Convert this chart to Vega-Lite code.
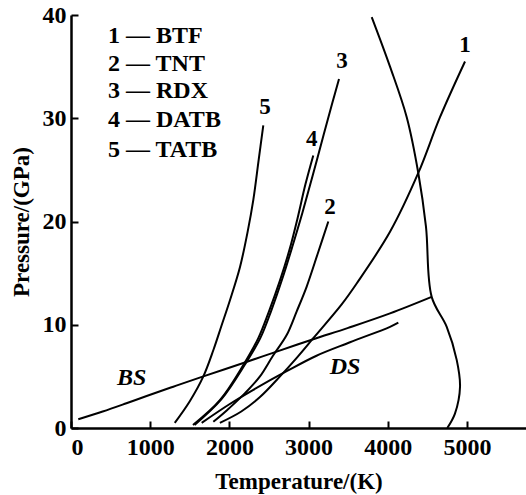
{
  "$schema": "https://vega.github.io/schema/vega-lite/v6.json",
  "autosize": "none",
  "width": 455,
  "height": 413,
  "padding": {"left": 71, "top": 15, "right": 0, "bottom": 67},
  "background": "white",
  "config": {
    "view": {"stroke": null},
    "axis": {
      "grid": false,
      "domainColor": "black",
      "domainWidth": 2.5,
      "tickColor": "black",
      "tickWidth": 2,
      "tickSize": -7,
      "labelFont": "Liberation Serif",
      "labelFontSize": 24,
      "labelFontWeight": "bold",
      "labelColor": "black",
      "titleFont": "Liberation Serif",
      "titleFontSize": 23,
      "titleFontWeight": "bold",
      "titleColor": "black"
    }
  },
  "datasets": {
    "curves": [
      {"s": "BS", "i": 0, "T": 92, "P": 0.85},
      {"s": "BS", "i": 1, "T": 400, "P": 1.6},
      {"s": "BS", "i": 2, "T": 700, "P": 2.4},
      {"s": "BS", "i": 3, "T": 955, "P": 3.1},
      {"s": "BS", "i": 4, "T": 1292, "P": 4.0},
      {"s": "BS", "i": 5, "T": 1671, "P": 5.0},
      {"s": "BS", "i": 6, "T": 2176, "P": 6.3},
      {"s": "BS", "i": 7, "T": 2597, "P": 7.4},
      {"s": "BS", "i": 8, "T": 3059, "P": 8.6},
      {"s": "BS", "i": 9, "T": 3500, "P": 9.7},
      {"s": "BS", "i": 10, "T": 4028, "P": 11.1},
      {"s": "BS", "i": 11, "T": 4554, "P": 12.7},
      {"s": "DS", "i": 0, "T": 1650, "P": 0.5},
      {"s": "DS", "i": 1, "T": 2000, "P": 2.3},
      {"s": "DS", "i": 2, "T": 2302, "P": 3.7},
      {"s": "DS", "i": 3, "T": 2723, "P": 5.5},
      {"s": "DS", "i": 4, "T": 3100, "P": 7.0},
      {"s": "DS", "i": 5, "T": 3523, "P": 8.3},
      {"s": "DS", "i": 6, "T": 4028, "P": 9.8},
      {"s": "DS", "i": 7, "T": 4133, "P": 10.2},
      {"s": "M", "i": 0, "T": 3797, "P": 39.8},
      {"s": "M", "i": 1, "T": 4028, "P": 35.0},
      {"s": "M", "i": 2, "T": 4239, "P": 30.1},
      {"s": "M", "i": 3, "T": 4385, "P": 24.7},
      {"s": "M", "i": 4, "T": 4482, "P": 19.5},
      {"s": "M", "i": 5, "T": 4554, "P": 12.7},
      {"s": "M", "i": 6, "T": 4744, "P": 9.8},
      {"s": "M", "i": 7, "T": 4870, "P": 6.6},
      {"s": "M", "i": 8, "T": 4912, "P": 4.0},
      {"s": "M", "i": 9, "T": 4848, "P": 1.4},
      {"s": "M", "i": 10, "T": 4751, "P": 0},
      {"s": "5", "i": 0, "T": 1310, "P": 0.5},
      {"s": "5", "i": 1, "T": 1500, "P": 2.6},
      {"s": "5", "i": 2, "T": 1671, "P": 5.0},
      {"s": "5", "i": 3, "T": 1800, "P": 7.6},
      {"s": "5", "i": 4, "T": 1900, "P": 9.9},
      {"s": "5", "i": 5, "T": 2008, "P": 12.4},
      {"s": "5", "i": 6, "T": 2134, "P": 15.6},
      {"s": "5", "i": 7, "T": 2230, "P": 19.0},
      {"s": "5", "i": 8, "T": 2302, "P": 22.1},
      {"s": "5", "i": 9, "T": 2370, "P": 26.0},
      {"s": "5", "i": 10, "T": 2428, "P": 29.3},
      {"s": "4", "i": 0, "T": 1540, "P": 0.3},
      {"s": "4", "i": 1, "T": 1880, "P": 2.7},
      {"s": "4", "i": 2, "T": 2176, "P": 6.1},
      {"s": "4", "i": 3, "T": 2365, "P": 8.7},
      {"s": "4", "i": 4, "T": 2500, "P": 11.3},
      {"s": "4", "i": 5, "T": 2639, "P": 14.3},
      {"s": "4", "i": 6, "T": 2760, "P": 17.3},
      {"s": "4", "i": 7, "T": 2860, "P": 20.3},
      {"s": "4", "i": 8, "T": 2960, "P": 23.6},
      {"s": "4", "i": 9, "T": 3059, "P": 26.4},
      {"s": "3", "i": 0, "T": 1560, "P": 0.3},
      {"s": "3", "i": 1, "T": 1900, "P": 2.8},
      {"s": "3", "i": 2, "T": 2200, "P": 6.2},
      {"s": "3", "i": 3, "T": 2390, "P": 8.7},
      {"s": "3", "i": 4, "T": 2530, "P": 11.4},
      {"s": "3", "i": 5, "T": 2670, "P": 14.5},
      {"s": "3", "i": 6, "T": 2800, "P": 17.7},
      {"s": "3", "i": 7, "T": 2920, "P": 20.8},
      {"s": "3", "i": 8, "T": 3050, "P": 24.4},
      {"s": "3", "i": 9, "T": 3190, "P": 28.4},
      {"s": "3", "i": 10, "T": 3300, "P": 31.5},
      {"s": "3", "i": 11, "T": 3384, "P": 33.8},
      {"s": "2", "i": 0, "T": 1797, "P": 0.6},
      {"s": "2", "i": 1, "T": 1966, "P": 1.7},
      {"s": "2", "i": 2, "T": 2200, "P": 3.4},
      {"s": "2", "i": 3, "T": 2386, "P": 5.0},
      {"s": "2", "i": 4, "T": 2550, "P": 7.0},
      {"s": "2", "i": 5, "T": 2723, "P": 9.0},
      {"s": "2", "i": 6, "T": 2850, "P": 11.3},
      {"s": "2", "i": 7, "T": 2976, "P": 13.7},
      {"s": "2", "i": 8, "T": 3120, "P": 17.0},
      {"s": "2", "i": 9, "T": 3249, "P": 20.0},
      {"s": "1", "i": 0, "T": 1880, "P": 0.5},
      {"s": "1", "i": 1, "T": 2150, "P": 1.6},
      {"s": "1", "i": 2, "T": 2386, "P": 3.0},
      {"s": "1", "i": 3, "T": 2639, "P": 5.0},
      {"s": "1", "i": 4, "T": 2850, "P": 6.8},
      {"s": "1", "i": 5, "T": 3059, "P": 8.7},
      {"s": "1", "i": 6, "T": 3420, "P": 12.0},
      {"s": "1", "i": 7, "T": 3607, "P": 14.0},
      {"s": "1", "i": 8, "T": 4028, "P": 19.0},
      {"s": "1", "i": 9, "T": 4385, "P": 24.7},
      {"s": "1", "i": 10, "T": 4659, "P": 30.1},
      {"s": "1", "i": 11, "T": 4975, "P": 35.5}
    ],
    "numLabels": [
      {"T": 4975, "P": 37.1, "text": "1"},
      {"T": 3270, "P": 21.4, "text": "2"},
      {"T": 3422, "P": 35.5, "text": "3"},
      {"T": 3039, "P": 28.0, "text": "4"},
      {"T": 2450, "P": 31.1, "text": "5"}
    ],
    "phaseLabels": [
      {"T": 766, "P": 4.8, "text": "BS"},
      {"T": 3460, "P": 5.9, "text": "DS"}
    ],
    "legend": [
      {"T": 467, "P": 38.0, "text": "1 — BTF"},
      {"T": 467, "P": 35.3, "text": "2 — TNT"},
      {"T": 467, "P": 32.6, "text": "3 — RDX"},
      {"T": 467, "P": 29.8, "text": "4 — DATB"},
      {"T": 467, "P": 26.9, "text": "5 — TATB"}
    ]
  },
  "layer": [
    {
      "data": {"name": "curves"},
      "mark": {"type": "line", "color": "black", "strokeWidth": 2, "interpolate": "catmull-rom", "clip": true},
      "encoding": {
        "x": {
          "field": "T", "type": "quantitative",
          "scale": {"domain": [0, 5745], "nice": false},
          "axis": {"title": "Temperature/(K)", "values": [0, 1000, 2000, 3000, 4000, 5000], "format": "d", "labelPadding": 14, "titlePadding": 11}
        },
        "y": {
          "field": "P", "type": "quantitative",
          "scale": {"domain": [0, 40], "nice": false},
          "axis": {"title": "Pressure/(GPa)", "values": [0, 10, 20, 30, 40], "format": "d", "labelPadding": 12, "titlePadding": 9}
        },
        "detail": {"field": "s"},
        "order": {"field": "i", "type": "quantitative"}
      }
    },
    {
      "data": {"name": "numLabels"},
      "mark": {"type": "text", "font": "Liberation Serif", "fontSize": 23, "fontWeight": "bold", "color": "black", "baseline": "middle", "align": "center"},
      "encoding": {
        "x": {"field": "T", "type": "quantitative"},
        "y": {"field": "P", "type": "quantitative"},
        "text": {"field": "text"}
      }
    },
    {
      "data": {"name": "phaseLabels"},
      "mark": {"type": "text", "font": "Liberation Serif", "fontSize": 24, "fontStyle": "italic", "fontWeight": "bold", "color": "black", "baseline": "middle", "align": "center"},
      "encoding": {
        "x": {"field": "T", "type": "quantitative"},
        "y": {"field": "P", "type": "quantitative"},
        "text": {"field": "text"}
      }
    },
    {
      "data": {"name": "legend"},
      "mark": {"type": "text", "font": "Liberation Serif", "fontSize": 24, "fontWeight": "bold", "color": "black", "baseline": "middle", "align": "left"},
      "encoding": {
        "x": {"field": "T", "type": "quantitative"},
        "y": {"field": "P", "type": "quantitative"},
        "text": {"field": "text"}
      }
    }
  ]
}
